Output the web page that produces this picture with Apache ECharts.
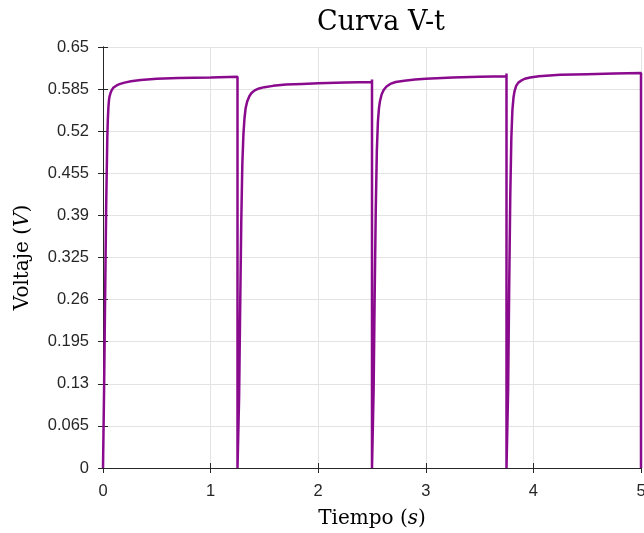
<!DOCTYPE html>
<html>
<head>
<meta charset="utf-8">
<script src="https://cdn.jsdelivr.net/npm/echarts@6/dist/echarts.min.js"></script>
<style>
  html, body { margin: 0; padding: 0; background: #fff; }
  #chart { width: 644px; height: 533px; }
</style>
</head>
<body>
<div id="chart"></div>
<script>
// tick labels
const xTicks = [0, 1, 2, 3, 4, 5];
const yTicks = [0, 0.065, 0.13, 0.195, 0.26, 0.325, 0.39, 0.455, 0.52, 0.585, 0.65];

// cycle 1 (0 - 1.25 s)
const t1 = [0, 0.01, 0.02, 0.03, 0.04, 0.045, 0.05, 0.055, 0.06, 0.07, 0.08, 0.095, 0.11, 0.13, 0.16, 0.2, 0.26, 0.35, 0.5, 0.7, 1.0, 1.25];
const v1 = [0, 0.12, 0.27, 0.41, 0.51, 0.538, 0.556, 0.567, 0.573, 0.579, 0.583, 0.587, 0.589, 0.591, 0.593, 0.595, 0.597, 0.599, 0.601, 0.602, 0.603, 0.604];
// cycle 2 (1.25 - 2.5 s)
const t2 = [1.25, 1.255, 1.265, 1.275, 1.285, 1.295, 1.305, 1.315, 1.325, 1.34, 1.36, 1.38, 1.41, 1.45, 1.5, 1.58, 1.7, 1.85, 2.0, 2.25, 2.5, 2.5];
const v2 = [0, 0, 0.11, 0.25, 0.38, 0.47, 0.515, 0.54, 0.555, 0.566, 0.574, 0.579, 0.583, 0.586, 0.588, 0.59, 0.592, 0.593, 0.594, 0.595, 0.596, 0.6];
// cycle 3 (2.5 - 3.75 s)
const t3 = [2.5, 2.505, 2.515, 2.525, 2.535, 2.545, 2.555, 2.565, 2.575, 2.59, 2.61, 2.635, 2.67, 2.72, 2.8, 2.9, 3.0, 3.25, 3.5, 3.75, 3.75];
const v3 = [0, 0, 0.12, 0.27, 0.40, 0.49, 0.535, 0.556, 0.567, 0.577, 0.584, 0.589, 0.593, 0.596, 0.598, 0.6, 0.601, 0.603, 0.604, 0.605, 0.609];
// cycle 4 (3.75 - 5 s)
const t4 = [3.75, 3.755, 3.765, 3.775, 3.785, 3.795, 3.805, 3.815, 3.825, 3.84, 3.86, 3.885, 3.92, 3.97, 4.05, 4.15, 4.25, 4.5, 4.75, 5, 5];
const v4 = [0, 0, 0.12, 0.28, 0.42, 0.51, 0.553, 0.572, 0.582, 0.59, 0.595, 0.598, 0.601, 0.603, 0.605, 0.606, 0.607, 0.608, 0.609, 0.61, 0];

const pairs = (t, v) => t.map((x, i) => [x, v[i]]);
const lineData = [].concat(pairs(t1, v1), pairs(t2, v2), pairs(t3, v3), pairs(t4, v4));

const axisCol = '#262626';
const gridCol = '#e3e3e3';
const tickFont = { color: '#262626', fontSize: 16.5, fontFamily: 'Liberation Sans' };
const nameFont = {
    fontFamily: 'DejaVu Serif', fontSize: 20, color: '#000',
    rich: { i: { fontFamily: 'DejaVu Serif', fontStyle: 'italic', fontSize: 20, color: '#000' } }
};

const chart = echarts.init(document.getElementById('chart'));
chart.setOption({
    animation: false,
    backgroundColor: '#fff',
    title: {
        text: 'Curva V-t',
        left: 376, top: 4, textAlign: 'center',
        textStyle: { fontFamily: 'DejaVu Serif', fontWeight: 'normal', fontSize: 27, color: '#000' }
    },
    grid: { left: 103, right: 3, top: 47, bottom: 65, outerBoundsMode: 'none' },
    xAxis: [{
        type: 'value', min: 0, max: 5, interval: 1,
        name: 'Tiempo ({i|s})', nameLocation: 'middle', nameGap: 41,
        nameTextStyle: nameFont,
        axisLine: { lineStyle: { color: axisCol, width: 1 } },
        axisTick: { inside: true, length: 5, lineStyle: { color: axisCol } },
        axisLabel: Object.assign({ margin: 15, formatter: v => xTicks.includes(v) ? String(v) : '' }, tickFont),
        splitLine: { show: true, lineStyle: { color: gridCol } }
    }, {
        type: 'value', min: 0, max: 5, interval: 1, position: 'top',
        axisLine: { show: true, lineStyle: { color: axisCol, width: 1 } },
        axisTick: { show: true, inside: true, length: 5, lineStyle: { color: axisCol } },
        axisLabel: { show: false }, splitLine: { show: false }
    }],
    yAxis: [{
        type: 'value', min: 0, max: 0.65, interval: 0.065,
        name: 'Voltaje ({i|V})', nameLocation: 'middle', nameGap: 70,
        nameTextStyle: nameFont,
        axisLine: { show: true, lineStyle: { color: axisCol, width: 1 } },
        axisTick: { show: true, inside: true, length: 5, lineStyle: { color: axisCol } },
        axisLabel: Object.assign({
            margin: 14,
            formatter: v => {
                const k = yTicks.find(y => Math.abs(y - v) < 1e-6);
                return k === undefined ? '' : String(k);
            }
        }, tickFont),
        splitLine: { show: true, lineStyle: { color: gridCol } }
    }, {
        type: 'value', min: 0, max: 0.65, interval: 0.065, position: 'right',
        axisLine: { show: true, lineStyle: { color: axisCol, width: 1 } },
        axisTick: { show: true, inside: true, length: 5, lineStyle: { color: axisCol } },
        axisLabel: { show: false }, splitLine: { show: false }
    }],
    series: [{
        type: 'line',
        data: lineData,
        showSymbol: false,
        smooth: false,
        clip: false,
        lineStyle: { color: '#8a0a8e', width: 2.5 },
        z: 3
    }]
});
</script>
</body>
</html>
